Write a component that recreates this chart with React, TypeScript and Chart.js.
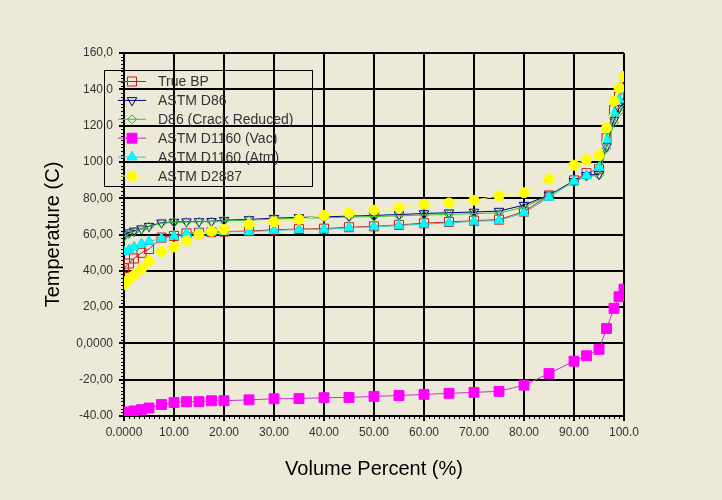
import React, { useEffect, useRef } from 'react';
import { Chart, registerables } from 'chart.js';

Chart.register(...registerables);

// ---- data ----
const volumePercent = [0, 1, 2, 3.5, 5, 7.5, 10, 12.5, 15, 17.5, 20, 25, 30, 35, 40, 45, 50, 55, 60, 65, 70, 75, 80, 85, 90, 92.5, 95, 96.5, 98, 99, 100];

const trueBP = [41.5, 44.0, 46.8, 49.9, 52.0, 58.3, 59.2, 60.6, 61.0, 61.3, 61.6, 61.9, 62.6, 63.0, 63.2, 64.0, 64.5, 65.3, 66.2, 66.9, 67.6, 68.2, 72.6, 81.5, 89.8, 93.8, 96.0, 113.0, 128.5, 136.0, 141.0];
const astmD86 = [59.8, 61.0, 62.0, 63.2, 64.6, 66.5, 66.9, 67.1, 67.2, 67.3, 67.9, 68.3, 69.0, 69.4, 69.7, 70.1, 70.5, 71.0, 71.6, 72.0, 72.4, 72.9, 76.2, 81.8, 89.3, 92.6, 93.2, 108.5, 123.0, 129.5, 133.0];
const d86CrackReduced = [58.8, 60.5, 61.6, 62.9, 64.3, 66.2, 66.7, 66.9, 67.0, 67.1, 67.5, 67.9, 68.5, 68.9, 69.2, 69.6, 69.9, 70.3, 70.7, 71.1, 71.5, 71.9, 75.0, 81.5, 89.0, 92.0, 92.6, 107.5, 121.5, 127.5, 131.5];
const astmD1160Vac = [-38.5, -37.8, -37.2, -36.5, -35.6, -33.7, -32.6, -32.1, -32.1, -31.6, -31.6, -31.1, -30.5, -30.4, -29.9, -29.8, -29.2, -28.7, -28.1, -27.5, -27.0, -26.4, -23.0, -16.6, -9.8, -6.8, -3.3, 8.2, 19.3, 25.7, 29.9];
const astmD1160Atm = [50.5, 51.5, 53.0, 54.8, 56.2, 57.8, 59.0, 60.5, 61.0, 61.3, 61.5, 61.6, 62.2, 62.8, 62.8, 63.7, 64.2, 65.0, 65.7, 66.4, 67.3, 67.7, 71.9, 80.5, 89.3, 92.5, 97.0, 112.3, 127.0, 134.3, 139.8];
const astmD2887 = [32.5, 35.4, 37.5, 41.0, 45.2, 50.6, 53.1, 56.5, 60.0, 61.8, 62.7, 65.5, 67.0, 68.3, 70.5, 71.9, 73.4, 74.7, 76.7, 77.4, 78.9, 81.3, 83.0, 90.5, 98.2, 101.3, 103.5, 118.7, 133.4, 140.7, 147.0];

const seriesNames = ['True BP', 'ASTM D86', 'D86 (Crack Reduced)', 'ASTM D1160 (Vac)', 'ASTM D1160 (Atm)', 'ASTM D2887'];

const xTickLabels = ['0.0000', '10.00', '20.00', '30.00', '40.00', '50.00', '60.00', '70.00', '80.00', '90.00', '100.0'];
const yTickLabels = ['-40.00', '-20,00', '0,0000', '20,00', '40,00', '60,00', '80,00', '100,0', '120,0', '140,0', '160,0'];

const xTitle = 'Volume Percent (%)';
const yTitle = 'Temperature (C)';

const BG = '#ECE9D8';
const FONT = "'Liberation Sans', Arial, sans-serif";

type Style = 'rect' | 'triangle' | 'rectRot' | 'circle';

interface SeriesStyle {
  line: string;
  stroke: string;
  fill: string;
  style: Style;
  radius: number;
  rotation: number;
}

const seriesStyles: SeriesStyle[] = [
  { line: '#C81E1E', stroke: '#C81E1E', fill: 'rgba(0,0,0,0)', style: 'rect', radius: 6.4, rotation: 0 },
  { line: '#000080', stroke: '#000080', fill: 'rgba(0,0,0,0)', style: 'triangle', radius: 5.5, rotation: 180 },
  { line: '#33CC33', stroke: '#33AA33', fill: 'rgba(0,0,0,0)', style: 'rectRot', radius: 4.5, rotation: 0 },
  { line: '#CC33CC', stroke: '#FF00FF', fill: '#FF00FF', style: 'rect', radius: 7, rotation: 0 },
  { line: '#33CCCC', stroke: '#00E5EE', fill: '#00FFFF', style: 'triangle', radius: 5.8, rotation: 0 },
  { line: '#FFFF66', stroke: '#FFFF00', fill: '#FFFF00', style: 'circle', radius: 5, rotation: 0 },
];

const seriesData = [trueBP, astmD86, d86CrackReduced, astmD1160Vac, astmD1160Atm, astmD2887];

function drawMarker(ctx: CanvasRenderingContext2D, s: SeriesStyle, x: number, y: number) {
  const r = s.radius;
  ctx.beginPath();
  if (s.style === 'rect') {
    const h = Math.SQRT1_2 * r;
    ctx.rect(x - h, y - h, 2 * h, 2 * h);
  } else if (s.style === 'circle') {
    ctx.arc(x, y, r, 0, Math.PI * 2);
  } else if (s.style === 'rectRot') {
    ctx.moveTo(x, y - r);
    ctx.lineTo(x + r, y);
    ctx.lineTo(x, y + r);
    ctx.lineTo(x - r, y);
    ctx.closePath();
  } else {
    let rad = (s.rotation * Math.PI) / 180;
    ctx.moveTo(x + Math.sin(rad) * r, y - Math.cos(rad) * r);
    rad += (2 * Math.PI) / 3;
    ctx.lineTo(x + Math.sin(rad) * r, y - Math.cos(rad) * r);
    rad += (2 * Math.PI) / 3;
    ctx.lineTo(x + Math.sin(rad) * r, y - Math.cos(rad) * r);
    ctx.closePath();
  }
  ctx.fillStyle = s.fill;
  ctx.fill();
  ctx.strokeStyle = s.stroke;
  ctx.lineWidth = 1;
  ctx.stroke();
}

const bgPlugin = {
  id: 'bgFill',
  beforeDraw(chart: any) {
    const { ctx, width, height } = chart;
    ctx.save();
    ctx.fillStyle = BG;
    ctx.fillRect(0, 0, width, height);
    ctx.restore();
  },
};

const decorPlugin = {
  id: 'decor',
  afterDraw(chart: any) {
    const { ctx, chartArea, scales } = chart;
    const xs = scales.x;
    const ys = scales.y;
    ctx.save();
    // minor ticks
    ctx.strokeStyle = '#000';
    ctx.lineWidth = 1;
    for (let v = -40; v <= 160; v += 2) {
      if (v % 20 === 0) continue;
      const py = Math.round(ys.getPixelForValue(v)) + 0.5;
      ctx.beginPath();
      ctx.moveTo(chartArea.left - 3, py);
      ctx.lineTo(chartArea.left, py);
      ctx.stroke();
    }
    for (let v = 0; v <= 100; v += 1) {
      if (v % 10 === 0) continue;
      const px = Math.round(xs.getPixelForValue(v)) + 0.5;
      ctx.beginPath();
      ctx.moveTo(px, chartArea.bottom);
      ctx.lineTo(px, chartArea.bottom + 3);
      ctx.stroke();
    }
    // legend
    const boxL = 104.5, boxT = 70.5, boxW = 208, boxH = 116;
    ctx.strokeStyle = '#000';
    ctx.lineWidth = 1;
    ctx.strokeRect(boxL, boxT, boxW, boxH);
    ctx.font = `14px ${FONT}`;
    ctx.textBaseline = 'middle';
    ctx.textAlign = 'left';
    seriesNames.forEach((name, i) => {
      const s = seriesStyles[i];
      const cy = 81.5 + i * 18.9;
      ctx.strokeStyle = s.line;
      ctx.lineWidth = 1;
      ctx.beginPath();
      ctx.moveTo(118, cy);
      ctx.lineTo(146, cy);
      ctx.stroke();
      drawMarker(ctx, s, 132, cy);
      ctx.fillStyle = '#333333';
      ctx.fillText(name, 158, cy + 1);
    });
    ctx.restore();
  },
};

export default function App() {
  const ref = useRef<HTMLCanvasElement>(null);

  useEffect(() => {
    document.body.style.margin = '0';
    document.body.style.background = BG;
    const canvas = ref.current;
    if (!canvas) return;
    const n = seriesNames.length;
    const datasets = seriesNames.map((name, i) => {
      const s = seriesStyles[i];
      return {
        label: name,
        data: volumePercent.map((x, k) => ({ x, y: seriesData[i][k] })),
        borderColor: s.line,
        borderWidth: 1,
        backgroundColor: s.fill,
        pointStyle: s.style,
        pointRadius: s.radius,
        pointRotation: s.rotation,
        pointBackgroundColor: s.fill,
        pointBorderColor: s.stroke,
        pointBorderWidth: 1,
        tension: 0,
        fill: false,
        order: n - 1 - i,
      };
    });

    const chart = new Chart(canvas, {
      type: 'line',
      data: { datasets },
      options: {
        responsive: false,
        animation: false,
        devicePixelRatio: 1,
        layout: { padding: { left: 0, right: 98, top: 53, bottom: 0 } },
        plugins: {
          legend: { display: false },
          tooltip: { enabled: false },
        },
        scales: {
          x: {
            type: 'linear',
            min: 0,
            max: 100,
            ticks: {
              stepSize: 10,
              autoSkip: false,
              maxRotation: 0,
              padding: 4,
              color: '#333333',
              font: { family: FONT, size: 12 },
              callback: (_v: any, idx: number) => xTickLabels[idx],
            },
            grid: { color: '#000', lineWidth: 2, tickLength: 5, tickColor: '#000' },
            border: { color: '#000', width: 2 },
            title: {
              display: true,
              text: xTitle,
              color: '#000',
              font: { family: FONT, size: 20 },
              padding: { top: 0, bottom: 19 },
            },
            afterFit: (scale: any) => {
              scale.height = 84;
            },
          },
          y: {
            type: 'linear',
            min: -40,
            max: 160,
            ticks: {
              stepSize: 20,
              autoSkip: false,
              padding: 6,
              color: '#333333',
              font: { family: FONT, size: 12 },
              callback: (_v: any, idx: number) => yTickLabels[idx],
            },
            grid: { color: '#000', lineWidth: 2, tickLength: 5, tickColor: '#000' },
            border: { color: '#000', width: 2 },
            title: {
              display: true,
              text: yTitle,
              color: '#000',
              font: { family: FONT, size: 20 },
              padding: { top: 41, bottom: 0 },
            },
            afterFit: (scale: any) => {
              scale.width = 124;
            },
          },
        },
      } as any,
      plugins: [bgPlugin, decorPlugin],
    });

    return () => {
      chart.destroy();
    };
  }, []);

  return (
    <div style={{ width: 722, height: 500, background: BG }}>
      <canvas ref={ref} width={722} height={500} style={{ display: 'block' }} />
    </div>
  );
}
